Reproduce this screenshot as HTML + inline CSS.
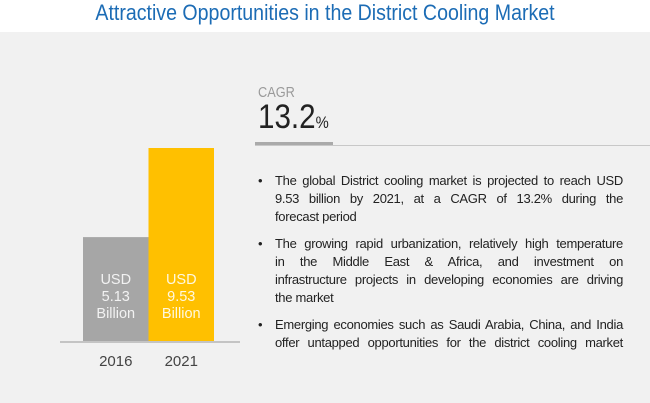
<!DOCTYPE html>
<html><head><meta charset="utf-8"><style>
body{margin:0;width:650px;height:403px;background:#fff;overflow:hidden;font-family:"Liberation Sans",sans-serif;position:relative}
#title{position:absolute;top:0;left:0;width:650px;text-align:center;font-size:22px;color:#1c6cb5;line-height:26px;transform:scaleX(0.89);transform-origin:325px 0}
#panel{position:absolute;top:32px;left:0;width:650px;height:371px;background:#f1f1f1}
.abs{position:absolute}
ul{position:absolute;left:258px;width:365px;margin:0;padding:0;list-style:none;font-size:13px;letter-spacing:-0.3px;line-height:18px;color:#222}
li{position:relative;padding-left:17px;margin-bottom:9px}
li:before{content:"•";position:absolute;left:0}
li span{display:block;white-space:nowrap;text-align:justify;text-align-last:justify}
li span.last{text-align-last:left}
</style></head><body>
<div id="title">Attractive Opportunities in the District Cooling Market</div>
<div id="panel"></div>
<div class="abs" style="left:258px;top:84px;font-size:15px;color:#9a9a9a;transform:scaleX(0.85);transform-origin:0 0">CAGR</div>
<div class="abs" style="left:258px;top:98px;font-size:34px;color:#222;line-height:38px;transform:scaleX(0.87);transform-origin:0 0">13.2<span style="font-size:17px">%</span></div>
<div class="abs" style="left:255px;top:142px;width:78px;height:4px;background:#aaa"></div>
<div class="abs" style="left:255px;top:145px;width:395px;height:1px;background:#c8c8c8"></div>
<ul style="top:172px">
<li><span>The global District cooling market is projected to reach USD</span><span>9.53 billion by 2021, at a CAGR of 13.2% during the</span><span class="last">forecast period</span></li>
<li><span>The growing rapid urbanization, relatively high temperature</span><span>in the Middle East &amp; Africa, and investment on</span><span>infrastructure projects in developing economies are driving</span><span class="last">the market</span></li>
<li><span>Emerging economies such as Saudi Arabia, China, and India</span><span>offer untapped opportunities for the district cooling market</span></li>
</ul>
<svg id="chart" class="abs" style="left:0;top:0" width="650" height="403"></svg>
<script>
const categories=["2016","2021"];
const values=[5.13,9.53];
const labels=["USD\n5.13\nBillion","USD\n9.53\nBillion"];
const colors=["#a6a6a6","#ffc000"];
const NS="http://www.w3.org/2000/svg";
const svg=document.getElementById('chart');
const baseY=341, scale=193/9.53, x0=83, bw=65.5;
const y=v=>baseY-v*scale;
const xPos=i=>x0+i*bw;
function mk(t,a){const e=document.createElementNS(NS,t);for(const k in a)e.setAttribute(k,a[k]);svg.appendChild(e);return e;}
categories.forEach((c,i)=>{
  const r=mk('rect',{x:xPos(i),y:y(values[i]),width:bw,height:baseY-y(values[i]),fill:colors[i]});
  
  
  const t=mk('text',{x:xPos(i)+bw/2,'text-anchor':'middle','font-size':'14.5',fill:i?'#fff8e0':'#f2f2f2','font-family':'Liberation Sans, sans-serif'});
  
  
  labels[i].split('\n').forEach((s,j)=>{const ts=document.createElementNS(NS,'tspan');ts.setAttribute('x',xPos(i)+bw/2);ts.setAttribute('y',284+j*17);ts.textContent=s;t.appendChild(ts);});
  const yl=mk('text',{x:xPos(i)+bw/2,y:366,'text-anchor':'middle','font-size':'15',fill:'#444','font-family':'Liberation Sans, sans-serif'});
  yl.textContent=c;
  
  
});
const ax=mk('line',{x1:60,x2:240,y1:baseY+1,y2:baseY+1,stroke:'#aaa','stroke-width':1.2});


</script>
</body></html>
